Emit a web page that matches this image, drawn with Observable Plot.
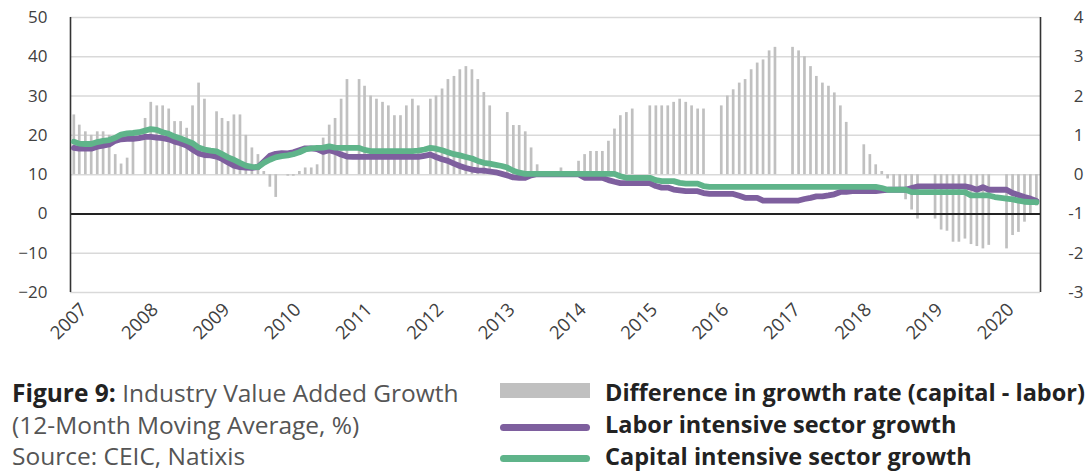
<!DOCTYPE html>
<html><head><meta charset="utf-8">
<script src="https://cdn.jsdelivr.net/npm/d3@7"></script>
<script src="https://cdn.jsdelivr.net/npm/@observablehq/plot@0.6"></script>
<style>
body{margin:0;background:#fff;width:1091px;height:474px;overflow:hidden;position:relative;font-family:"Open Sans",sans-serif;}
#chart{position:absolute;left:0;top:0;}
.cap{position:absolute;left:12px;font-size:24.5px;color:#555;white-space:nowrap;line-height:30px;}
.cap b{color:#222;font-weight:700;}
.leg{position:absolute;left:605px;font-size:23.5px;color:#222;font-weight:700;white-space:nowrap;line-height:30px;}
.sw{position:absolute;left:500px;width:90px;}
</style></head><body>
<div id="chart"></div>
<div class="cap" style="top:378px"><b>Figure 9:</b> Industry Value Added Growth</div>
<div class="cap" style="top:410px">(12-Month Moving Average, %)</div>
<div class="cap" style="top:441px">Source: CEIC, Natixis</div>
<div class="sw" style="top:383px;height:15px;background:#c0c0c0"></div>
<div class="sw" style="top:424px;height:7px;border-radius:4px;background:#7e5f9e"></div>
<div class="sw" style="top:455px;height:7px;border-radius:4px;background:#5fb48a"></div>
<div class="leg" style="top:377px">Difference in growth rate (capital - labor)</div>
<div class="leg" style="top:409px">Labor intensive sector growth</div>
<div class="leg" style="top:441px">Capital intensive sector growth</div>
<script>
// Monthly series starting February 2007 (January figures not published; null = missing month)
const startYear = 2007, startMonth = 1; // 0-based month: February
const diffCapitalMinusLabor = [
 1.52,1.26,1.09,1.0,1.09,1.09,1.0,0.51,0.27,0.42,1.05,
 null,
 1.43,1.84,1.75,1.75,1.67,1.35,1.35,1.18,1.75,2.33,1.92,
 null,
 1.6,1.43,1.35,1.52,1.52,1.0,0.68,0.51,0.08,-0.32,-0.58,
 null,
 -0.04,-0.04,0.08,0.17,0.17,0.25,0.93,1.26,1.43,1.92,2.42,
 null,
 2.42,2.25,2.0,1.92,1.84,1.75,1.5,1.5,1.75,1.92,1.75,
 null,
 1.92,2.0,2.18,2.42,2.5,2.67,2.75,2.67,2.42,2.09,1.75,
 null,null,
 1.58,1.25,1.25,1.09,0.68,0.25,0.0,-0.04,0.0,0.17,
 null,null,
 0.34,0.51,0.59,0.59,0.59,0.85,1.16,1.5,1.58,1.67,
 null,null,
 1.75,1.75,1.75,1.75,1.84,1.92,1.84,1.75,1.67,1.67,
 null,null,
 1.75,2.0,2.16,2.33,2.42,2.67,2.84,2.92,3.15,3.24,
 null,null,
 3.24,3.15,3.0,2.75,2.5,2.33,2.25,2.08,1.75,1.33,
 null,null,
 0.76,0.51,0.25,0.08,-0.11,-0.32,-0.39,-0.64,-0.9,-1.13,
 null,null,
 -1.13,-1.41,-1.44,-1.72,-1.72,-1.64,-1.78,-1.83,-1.89,-1.8,
 null,null,
 -1.89,-1.55,-1.47,-1.21,-1.0,-0.8
];
const laborGrowth = [
 16.8,16.6,16.6,16.6,17.1,17.4,17.7,18.6,19.0,19.1,19.1,
 19.3,19.6,19.6,19.4,19.3,19.0,18.4,18.0,17.4,16.4,15.4,
 15.0,14.9,14.6,14.0,13.1,12.3,11.9,11.8,11.7,11.9,13.3,
 14.8,15.3,15.5,15.4,15.7,16.2,16.7,16.7,16.5,15.8,16.2,
 15.8,15.1,14.6,14.5,14.5,14.5,14.5,14.5,14.5,14.5,14.5,
 14.5,14.5,14.5,14.5,14.8,15.1,14.5,13.9,13.5,12.8,12.2,
 11.7,11.3,11.1,11.0,10.8,10.6,10.2,9.8,9.3,9.2,9.2,
 9.8,10.1,10.1,10.1,10.1,10.1,10.1,10.1,10.1,9.2,9.2,
 9.2,9.2,8.6,8.2,7.85,7.85,7.85,7.85,7.85,7.85,7.1,
 6.7,6.7,6.2,6.0,5.8,5.8,5.8,5.3,5.1,5.1,5.1,
 5.1,5.1,4.6,4.1,4.1,4.1,3.4,3.4,3.4,3.4,3.4,
 3.4,3.4,3.8,4.1,4.45,4.45,4.7,5.0,5.6,5.6,5.8,
 5.8,5.8,5.8,5.8,6.0,6.15,6.15,6.15,6.15,6.6,7.0,
 7.0,7.0,7.0,7.0,7.0,7.0,7.0,7.0,6.7,6.15,6.8,
 6.15,6.15,6.15,6.15,5.3,4.8,4.3,3.9,3.3
];
const capitalGrowth = [
 18.4,17.9,17.8,17.8,18.3,18.6,18.8,19.4,20.2,20.5,20.6,
 20.8,21.2,21.6,21.4,20.8,20.4,19.7,19.2,18.6,18.0,16.9,
 16.4,16.1,15.9,15.2,14.4,13.8,13.0,12.3,12.0,11.9,13.0,
 13.8,14.4,14.7,14.9,15.2,15.7,16.4,16.7,16.8,16.9,17.2,
 16.9,16.8,16.8,16.8,16.8,16.3,16.0,16.0,16.0,16.0,16.0,
 16.0,16.0,16.0,16.1,16.4,16.8,16.6,16.2,15.7,15.2,14.9,
 14.5,14.1,13.5,13.0,12.8,12.5,12.2,11.8,11.0,10.5,10.2,
 10.2,10.2,10.2,10.2,10.2,10.2,10.2,10.2,10.2,10.2,10.2,
 10.2,10.2,10.2,10.2,9.6,9.2,9.2,9.2,9.2,9.2,8.6,
 8.35,8.35,8.35,7.9,7.7,7.7,7.7,7.1,6.9,6.9,6.9,
 6.9,6.9,6.9,6.9,6.9,6.9,6.9,6.9,6.9,6.9,6.9,
 6.9,6.9,6.9,6.9,6.9,6.9,6.9,6.9,6.9,6.9,6.9,
 6.9,6.9,6.9,6.9,6.6,6.15,6.15,6.15,6.15,5.55,5.55,
 5.55,5.55,5.55,5.55,5.55,5.55,5.55,5.55,4.7,4.7,4.7,
 4.7,4.3,4.1,3.9,3.7,3.4,3.1,3.0,3.0
];
const yearTicks = [2007,2008,2009,2010,2011,2012,2013,2014,2015,2016,2017,2018,2019,2020];
const leftTicks = [-20,-10,0,10,20,30,40,50];
const rightTicks = [-3,-2,-1,0,1,2,3,4];

const purple = "#7e5f9e", green = "#5fb48a", grey = "#c0c0c0";
const rows = laborGrowth.map((v, i) => ({
  date: new Date(Date.UTC(startYear, startMonth + i, 1)),
  labor: v,
  capital: capitalGrowth[i],
  diff: diffCapitalMinusLabor[i]
}));
// right axis (difference, pp) mapped onto left axis: left = 10 + 10 * right
const toLeft = r => 10 + 10 * r;
const xDomain = [new Date(Date.UTC(2007, 0, 15)), new Date(Date.UTC(2020, 7, 22))];
const yearDates = yearTicks.map(y => new Date(Date.UTC(y, 0, 1)));

const chart = Plot.plot({
  width: 1091,
  height: 350,
  marginLeft: 70,
  marginRight: 51,
  marginTop: 17,
  marginBottom: 58,
  style: {fontFamily: "'Open Sans', sans-serif", fontSize: "17px", color: "#404040", background: "white", overflow: "visible"},
  x: {type: "utc", domain: xDomain},
  y: {domain: [-20, 50]},
  marks: [
    Plot.gridY(leftTicks, {stroke: "#d9d9d9", strokeOpacity: 1, strokeWidth: 1.5}),
    Plot.ruleX(rows.filter(d => d.diff != null), {x: "date", y1: d => 10, y2: d => toLeft(d.diff), stroke: grey, strokeWidth: 2.7}),
    Plot.ruleY([0], {stroke: "#222", strokeWidth: 2}),
    Plot.ruleX([xDomain[0], xDomain[1]], {y1: -20, y2: 50, stroke: "#333", strokeWidth: 1.6}),
    Plot.line(rows, {x: "date", y: "labor", stroke: purple, strokeWidth: 5.8, strokeLinejoin: "round"}),
    Plot.line(rows, {x: "date", y: "capital", stroke: green, strokeWidth: 5.8, strokeLinejoin: "round"}),
    Plot.axisY(leftTicks, {anchor: "left", tickSize: 0, tickPadding: 23, fontSize: 17, fill: "#404040"}),
    Plot.axisY(rightTicks.map(toLeft), {anchor: "right", tickSize: 0, tickPadding: 43, textAnchor: "end", tickFormat: d => String((d - 10) / 10), fontSize: 17, fill: "#404040"}),
    Plot.axisX(yearDates, {anchor: "bottom", tickSize: 0, tickPadding: 14, tickRotate: -45, dx: 16, tickFormat: d3.utcFormat("%Y"), fontSize: 18.5, fill: "#404040"})
  ]
});
document.getElementById("chart").appendChild(chart);
</script>
</body></html>
